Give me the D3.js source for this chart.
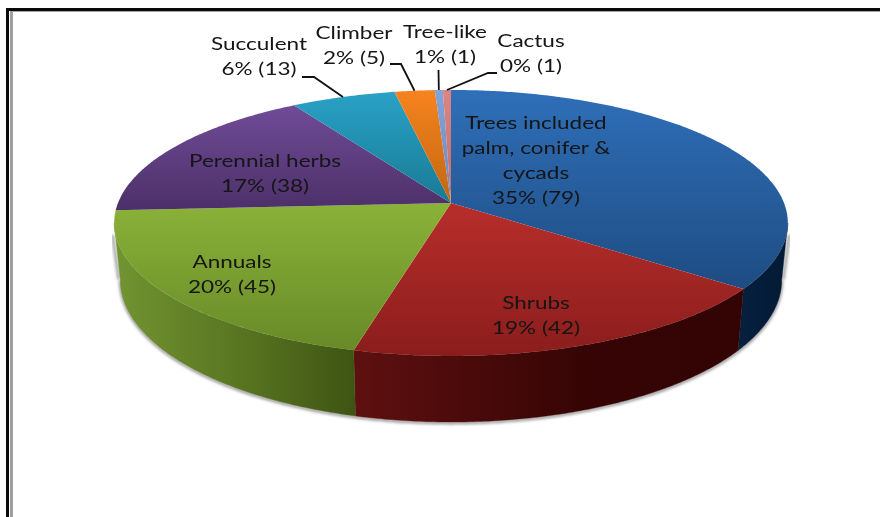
<!DOCTYPE html>
<html><head><meta charset="utf-8">
<script src="https://cdn.jsdelivr.net/npm/d3@7/dist/d3.min.js"></script>
<style>html,body{margin:0;padding:0;background:#fff;overflow:hidden}svg{display:block}</style>
</head><body><svg id="c" width="880" height="517"></svg>
<script>
// ---- data ----
const categories = ["Trees included palm, conifer & cycads","Shrubs","Annuals","Perennial herbs","Succulent","Climber","Tree-like","Cactus"];
const counts = [79,42,45,38,13,5,1,1];
const percents = [35,19,20,17,6,2,1,0];
// ---- styles ----
const topLight = ["#2f6fb9","#b72e2b","#8ab238","#704b97","#29a2c6","#f6841f","#84a3da","#dc8583"];
const topDark  = ["#1e4c82","#8a1d1c","#688a28","#4c3068","#197a94","#c2660f","#6a88bd","#c06c6a"];
const wallLeft  = ["#06203f","#5e1010","#729431","#000","#000","#000","#000","#000"];
const wallMid   = ["#041c38","#360404","#55701f","#000","#000","#000","#000","#000"];
const wallRight = ["#041a34","#330404","#3e5414","#000","#000","#000","#000","#000"];
// label layout: centre x, first-line baseline y, line height
const labelLines = [
  ["Trees included","palm, conifer &","cycads","35% (79)"],["Shrubs","19% (42)"],["Annuals","20% (45)"],
  ["Perennial herbs","17% (38)"],["Succulent","6% (13)"],["Climber","2% (5)"],["Tree-like","1% (1)"],["Cactus","0% (1)"]];
const labelX = [536,536,232,265,259,354,445,531];
const labelY = [129,309,268,167,50,39,38,47];
const lineGap = [25,25,25,25,25,25,25,25];
// leader start (label side): [outer x, elbow x, y]
const leaders = [null,null,null,null,[302,314,77],[390,401,64],[438.5,438.5,70],[497,488,73]];

const svg = d3.select("#c");
const defs = svg.append("defs");
const K = 0.15;
const topPlane = {cx:451, cy:203, A:333, B:130};
const botPlane = {cx:451, cy:258.5, A:327, B:139};
const sx = (p,a)=>p.cx + p.A*Math.sin(a)/(1+K*Math.cos(a));
const sy = (p,a)=>p.cy - p.B*Math.cos(a)/(1+K*Math.cos(a));
const line = d3.line().x(d=>d[0]).y(d=>d[1]);
const arcPts = (p,a0,a1)=>{const n=Math.max(2,Math.ceil((a1-a0)/0.01));return d3.range(n+1).map(i=>{const a=a0+(a1-a0)*i/n;return [sx(p,a),sy(p,a)];});};

const arcs = d3.pie().sort(null).value(d=>d)(counts);

// frame
svg.append("rect").attr("x",6).attr("y",8).attr("width",874).attr("height",3).attr("fill","#0a0a0a");
svg.append("rect").attr("x",6).attr("y",8).attr("width",3).attr("height",509).attr("fill","#0a0a0a");
svg.append("rect").attr("x",10).attr("y",11).attr("width",870).attr("height",1).attr("fill","#a5a5a5");
svg.append("rect").attr("x",10).attr("y",11).attr("width",3).attr("height",506).attr("fill","#a0a0a0");

// gradients
const grad = (id,x,y,stops)=>{const g=defs.append("linearGradient").attr("id",id).attr("x1",0).attr("y1",0).attr("x2",x).attr("y2",y);
  stops.forEach(([o,c])=>g.append("stop").attr("offset",o).attr("stop-color",c));};
arcs.forEach((d,i)=>{
  grad("t"+i,0,1,[[0,topLight[i]],[1,topDark[i]]]);
  grad("w"+i,1,0,[[0,wallLeft[i]],[0.6,wallMid[i]],[1,wallRight[i]]]);
});
defs.append("filter").attr("id","sh").attr("x","-5%").attr("y","-5%").attr("width","110%").attr("height","110%")
  .append("feGaussianBlur").attr("stdDeviation",1.4);
defs.append("filter").attr("id","soft").attr("x","-5%").attr("y","-20%").attr("width","110%").attr("height","140%")
  .append("feGaussianBlur").attr("stdDeviation",0.35);

// silhouette tangent angles: where the ellipse reaches its widest x
const sideA = Math.PI/2 + Math.asin(K);
const wallRange = [sideA, 2*Math.PI - sideA];

// ground shadow along the bottom rim and both sides
svg.append("path").attr("d",line(arcPts(botPlane,wallRange[0],wallRange[1]))).attr("fill","none")
  .attr("stroke","#7a7a7a").attr("stroke-width",2.2).attr("filter","url(#sh)").attr("transform","translate(0,1)");
wallRange.forEach((a,k)=>{
  svg.append("path").attr("d",line([[sx(topPlane,a),sy(topPlane,a)+12],[sx(botPlane,a),sy(botPlane,a)]]))
    .attr("stroke","#7a7a7a").attr("stroke-width",2).attr("filter","url(#sh)").attr("transform",`translate(${k?-1.5:1.5},0)`);
});

// walls (front half only)
arcs.forEach((d,i)=>{
  const a0=Math.max(d.startAngle,wallRange[0]), a1=Math.min(d.endAngle,wallRange[1]);
  if(a1<=a0) return;
  const pts=arcPts(topPlane,a0,a1).concat(arcPts(botPlane,a0,a1).reverse());
  svg.append("path").attr("d",line(pts)+"Z").attr("fill",`url(#w${i})`).attr("stroke",`url(#w${i})`).attr("stroke-width",0.4);
});

// top face
arcs.forEach((d,i)=>{
  const pts=[[topPlane.cx,topPlane.cy]].concat(arcPts(topPlane,d.startAngle,d.endAngle));
  svg.append("path").attr("d",line(pts)+"Z").attr("fill",`url(#t${i})`);
});

// leaders
arcs.forEach((d,i)=>{
  const l=leaders[i]; if(!l) return;
  const m=(d.startAngle+d.endAngle)/2;
  svg.append("path").attr("d",line([[l[0],l[2]],[l[1],l[2]],[sx(topPlane,m),sy(topPlane,m)]]))
    .attr("fill","none").attr("stroke","#111").attr("stroke-width",1.8);
});

// labels (the reference type is stretched horizontally)
const stretch = 1.25;
categories.forEach((c,i)=>{
  const g=svg.append("g").attr("transform",`translate(${labelX[i]},0) scale(${stretch},1)`).attr("filter","url(#soft)");
  const t=g.append("text").attr("text-anchor","middle").attr("font-family","Lato,sans-serif")
    .attr("font-size",18).attr("fill","#141414");
  labelLines[i].forEach((s,j)=>t.append("tspan").attr("x",0).attr("y",labelY[i]+j*lineGap[i]).text(s));
});
</script></body></html>
